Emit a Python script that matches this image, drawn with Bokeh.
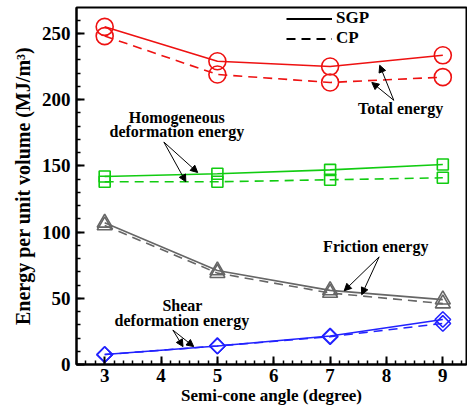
from bokeh.plotting import figure
from bokeh.models import (Range1d, Label, Arrow, NormalHead, Legend, LegendItem,
                          FixedTicker, ColumnDataSource)
from bokeh.embed import file_html
from bokeh.resources import INLINE

angles = [3, 5, 7, 9]
total_sgp = [255, 229, 225, 233.5]
total_cp = [248, 219, 213, 217]
homog_sgp = [142, 144, 147, 151]
homog_cp = [138, 138, 139.5, 141]
friction_sgp = [107, 71, 56, 49]
friction_cp = [105, 69, 54, 46]
shear_sgp = [7.5, 14, 21.5, 34]
shear_cp = [7.5, 14, 21, 31]

x_ticks = [3, 4, 5, 6, 7, 8, 9]
y_ticks = [0, 50, 100, 150, 200, 250]

FONT = "Liberation Serif"

p = figure(width=467, height=407, output_backend="svg", toolbar_location=None,
           x_range=Range1d(2.5, 9.42), y_range=Range1d(0, 269.6),
           min_border_left=76, min_border_right=1, min_border_top=7,
           min_border_bottom=42)
p.grid.visible = False
p.outline_line_color = "black"
p.outline_line_width = 2
p.background_fill_color = "white"
p.border_fill_color = "white"

for ax in (p.xaxis[0], p.yaxis[0]):
    ax.axis_line_width = 2
    ax.axis_line_color = "black"
    ax.major_tick_in = 8
    ax.major_tick_out = 0
    ax.minor_tick_in = 4
    ax.minor_tick_out = 0
    ax.major_tick_line_width = 2
    ax.minor_tick_line_width = 1.5
    ax.major_label_text_font = FONT
    ax.major_label_text_font_style = "bold"
    ax.major_label_text_font_size = "19px"
    ax.major_label_text_color = "black"
    ax.axis_label_text_font = FONT
    ax.axis_label_text_font_style = "bold"
    ax.axis_label_text_color = "black"

p.xaxis[0].ticker = FixedTicker(ticks=x_ticks,
                                minor_ticks=[2.5 + i / 6 for i in range(0, 43)])
p.yaxis[0].ticker = FixedTicker(ticks=y_ticks, minor_ticks=list(range(0, 270, 10)))
p.xaxis[0].axis_label = "Semi-cone angle (degree)"
p.yaxis[0].axis_label = "Energy per unit volume (MJ/m³)"
p.xaxis[0].axis_label_text_font_size = "17px"
p.yaxis[0].axis_label_text_font_size = "20px"
p.xaxis[0].major_label_standoff = 4
p.yaxis[0].major_label_standoff = 6
p.xaxis[0].axis_label_standoff = 1
p.yaxis[0].axis_label_standoff = 5

series = [
    (total_sgp, total_cp, "#ee1111", "circle", 17, 0),
    (homog_sgp, homog_cp, "#11cc11", "square", 11, 0),
    (friction_sgp, friction_cp, "#666666", "triangle", 15, 0),
    (shear_sgp, shear_cp, "#2222ff", "square", 11, 0.785398),
]
for sgp, cp, color, marker, size, ang in series:
    src = ColumnDataSource(dict(x=angles, sgp=sgp, cp=cp))
    p.line("x", "sgp", source=src, line_color=color, line_width=1.6)
    p.line("x", "cp", source=src, line_color=color, line_width=1.6, line_dash="9 6")
    for col in ("sgp", "cp"):
        p.scatter("x", col, source=src, marker=marker, size=size, angle=ang,
                  fill_alpha=0, line_color=color, line_width=1.6)

# legend (proxy renderers placed outside the visible range)
proxy = ColumnDataSource(dict(x=[2.0, 2.1], y=[-50, -50]))
l1 = p.line("x", "y", source=proxy, line_color="black", line_width=2.2)
l2 = p.line("x", "y", source=proxy, line_color="black", line_width=2.2,
            line_dash="9 6")
legend = Legend(items=[LegendItem(label="SGP", renderers=[l1]),
                       LegendItem(label="CP", renderers=[l2])],
                location=(210, 316), padding=0, margin=0, spacing=0,
                glyph_width=46, glyph_height=15, label_height=15,
                label_standoff=4,
                label_text_font=FONT, label_text_font_style="bold",
                label_text_font_size="17px", label_text_color="black",
                background_fill_alpha=0, border_line_alpha=0)
p.add_layout(legend)

def txt(x, y, s):
    p.add_layout(Label(x=x, y=y, text=s, text_font=FONT, text_font_style="bold",
                       text_font_size="16px", text_align="center",
                       text_baseline="middle", text_color="black"))

txt(8.25, 193.5, "Total energy")
txt(4.28, 186.7, "Homogeneous")
txt(4.28, 176, "deformation energy")
txt(7.81, 88.9, "Friction energy")
txt(4.38, 44.4, "Shear")
txt(4.37, 33.1, "deformation energy")

arrows = [
    ((8.13, 199.5), [(7.88, 226), (7.74, 213)]),
    ((4.05, 168), [(4.65, 145), (4.44, 138)]),
    ((7.87, 81.3), [(7.25, 55.7), (7.56, 52.7)]),
    ((4.21, 26), [(4.39, 13.5), (4.58, 13.5)]),
]
for (tx, ty), tips in arrows:
    for (hx, hy) in tips:
        p.add_layout(Arrow(x_start=tx, y_start=ty, x_end=hx, y_end=hy,
                           line_color="black", line_width=1,
                           end=NormalHead(size=7, fill_color="black",
                                          line_color="black")))

open("out.html", "w").write(file_html(p, INLINE))
